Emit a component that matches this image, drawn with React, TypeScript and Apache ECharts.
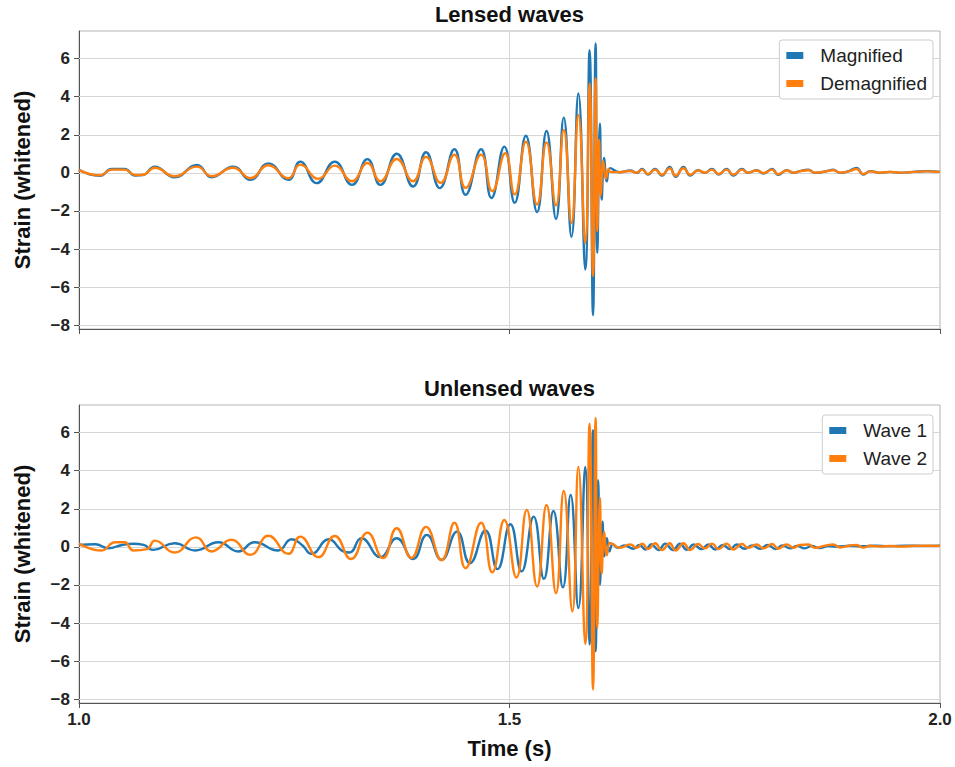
import React, { useEffect, useRef } from "react";
import * as echarts from "echarts";

// Whitened strain, [time (s), strain] at the turning points of each wave.
const magnified: [number, number][] = [
  [1.0, 0.16], [1.024, -0.16], [1.038, 0.2], [1.053, 0.2], [1.065, -0.14], [1.074, -0.12],
  [1.088, 0.33], [1.111, -0.23], [1.137, 0.42], [1.154, -0.23], [1.179, 0.33], [1.199, -0.37],
  [1.22, 0.5], [1.243, -0.37], [1.257, 0.59], [1.276, -0.54], [1.297, 0.59], [1.317, -0.63],
  [1.335, 0.72], [1.35, -0.63], [1.369, 1.0], [1.388, -0.72], [1.403, 1.08], [1.419, -0.8],
  [1.436, 1.24], [1.449, -1.15], [1.467, 1.24], [1.479, -1.32], [1.494, 1.38], [1.506, -1.57],
  [1.519, 1.95], [1.532, -2.06], [1.543, 2.2], [1.554, -2.42], [1.563, 2.9], [1.572, -3.36],
  [1.58, 4.17], [1.588, -5.08], [1.593, 6.44], [1.597, -7.47], [1.6, 6.79], [1.602, -4.2],
  [1.605, 2.6], [1.607, -1.4], [1.61, 0.78], [1.613, -0.44], [1.617, 0.25],
  [1.628, 0.03], [1.64, 0.12], [1.648, 0], [1.654, 0.21], [1.661, -0.09], [1.669, 0.21],
  [1.677, -0.14], [1.686, 0.31], [1.693, -0.21], [1.702, 0.31], [1.71, -0.14], [1.719, 0.14],
  [1.727, 0], [1.735, 0.21], [1.743, -0.09], [1.752, 0.21], [1.76, -0.14], [1.77, 0.21],
  [1.777, 0], [1.787, 0.14], [1.795, -0.03], [1.805, 0.21], [1.812, -0.1], [1.822, 0.14],
  [1.83, 0], [1.837, 0.09], [1.847, 0.17], [1.855, 0], [1.868, 0.09], [1.876, 0.17],
  [1.884, 0], [1.894, 0.09], [1.903, 0.26], [1.911, -0.09], [1.919, 0.09], [1.93, 0],
  [1.942, 0.05], [1.954, 0], [1.969, 0.05], [1.985, 0.09], [2.0, 0.05],
];

const demagnified: [number, number][] = [
  [1.0, 0.14], [1.024, -0.13], [1.038, 0.17], [1.053, 0.17], [1.065, -0.11], [1.074, -0.1],
  [1.088, 0.27], [1.111, -0.18], [1.137, 0.33], [1.154, -0.18], [1.179, 0.27], [1.199, -0.28],
  [1.22, 0.4], [1.243, -0.28], [1.257, 0.43], [1.278, -0.31], [1.297, 0.38], [1.317, -0.44],
  [1.335, 0.52], [1.35, -0.44], [1.369, 0.73], [1.388, -0.44], [1.403, 0.84], [1.42, -0.52],
  [1.436, 0.96], [1.449, -0.79], [1.467, 0.96], [1.48, -0.96], [1.495, 1.03], [1.506, -1.13],
  [1.519, 1.64], [1.532, -1.66], [1.543, 1.6], [1.554, -1.71], [1.563, 2.26], [1.572, -2.63],
  [1.58, 3.04], [1.588, -3.68], [1.593, 4.7], [1.597, -5.41], [1.6, 4.96], [1.602, -3.07],
  [1.604, 1.74], [1.606, -1.2], [1.609, 0.6], [1.612, -0.3], [1.615, 0.2], [1.617, 0.05],
  [1.628, 0.04], [1.64, 0.1], [1.648, 0.01], [1.654, 0.17], [1.661, -0.06], [1.669, 0.17],
  [1.677, -0.1], [1.686, 0.24], [1.693, -0.15], [1.702, 0.24], [1.71, -0.1], [1.719, 0.12],
  [1.727, 0.01], [1.735, 0.17], [1.743, -0.06], [1.752, 0.17], [1.76, -0.1], [1.77, 0.17],
  [1.777, 0.01], [1.787, 0.12], [1.795, -0.01], [1.805, 0.17], [1.812, -0.07], [1.822, 0.12],
  [1.83, 0.01], [1.837, 0.08], [1.847, 0.14], [1.855, 0.01], [1.868, 0.08], [1.876, 0.14],
  [1.884, 0.01], [1.894, 0.08], [1.903, 0.2], [1.911, -0.06], [1.919, 0.08], [1.93, 0.01],
  [1.942, 0.05], [1.954, 0.01], [1.969, 0.05], [1.985, 0.08], [2.0, 0.05],
];

const wave1: [number, number][] = [
  [1.0, 0.1], [1.019, 0.14], [1.034, -0.07], [1.05, 0.1], [1.063, 0.16], [1.075, 0.1],
  [1.086, -0.16], [1.111, 0.19], [1.135, -0.19], [1.162, 0.24], [1.185, -0.24], [1.204, 0.24],
  [1.231, -0.19], [1.247, 0.4], [1.259, 0.1], [1.27, -0.37], [1.29, 0.4], [1.307, -0.24],
  [1.314, -0.3], [1.328, 0.45], [1.35, -0.54], [1.369, 0.45], [1.388, -0.64], [1.404, 0.63],
  [1.421, -0.68], [1.439, 0.8], [1.454, -0.86], [1.472, 0.86], [1.486, -1.17], [1.501, 1.19],
  [1.514, -1.29], [1.528, 1.59], [1.54, -1.68], [1.551, 1.88], [1.562, -2.13], [1.571, 2.72],
  [1.58, -3.21], [1.588, 4.2], [1.593, -5.13], [1.597, 6.13], [1.6, -5.48], [1.603, 3.5],
  [1.605, -1.99], [1.608, 1.32], [1.61, -0.5], [1.613, 0.46], [1.616, -0.24], [1.62, 0.14],
  [1.626, -0.05], [1.633, 0.08], [1.644, -0.1], [1.651, 0.1], [1.658, -0.14], [1.665, 0.14],
  [1.673, -0.17], [1.681, 0.17], [1.69, -0.17], [1.698, 0.17], [1.706, -0.15], [1.714, 0.12],
  [1.723, -0.12], [1.731, 0.12], [1.739, -0.14], [1.748, 0.1], [1.756, -0.12], [1.764, 0.12],
  [1.773, -0.1], [1.782, 0.08], [1.791, -0.1], [1.8, 0.1], [1.809, -0.12], [1.817, 0.08],
  [1.826, -0.08], [1.834, 0.05], [1.843, -0.08], [1.851, 0.05], [1.86, -0.06], [1.87, 0.04],
  [1.88, 0.02], [1.895, 0.06], [1.91, 0.03], [1.925, 0.06], [1.94, 0.04], [1.96, 0.06],
  [1.98, 0.05], [2.0, 0.06],
];

const wave2: [number, number][] = [
  [1.0, 0.17], [1.026, -0.19], [1.042, 0.24], [1.053, 0.24], [1.063, -0.19], [1.079, -0.12],
  [1.088, 0.33], [1.111, -0.3], [1.136, 0.5], [1.154, -0.24], [1.177, 0.37], [1.199, -0.42],
  [1.22, 0.58], [1.243, -0.37], [1.257, 0.54], [1.278, -0.54], [1.297, 0.57], [1.316, -0.64],
  [1.335, 0.75], [1.353, -0.59], [1.369, 0.98], [1.386, -0.59], [1.403, 1.05], [1.421, -0.7],
  [1.436, 1.27], [1.449, -1.12], [1.467, 1.27], [1.48, -1.34], [1.494, 1.41], [1.508, -1.61],
  [1.52, 1.94], [1.532, -2.08], [1.543, 2.2], [1.554, -2.43], [1.563, 2.93], [1.573, -3.39],
  [1.58, 4.2], [1.588, -5.1], [1.593, 6.47], [1.597, -7.49], [1.6, 6.77], [1.602, -4.26],
  [1.605, 2.58], [1.607, -1.4], [1.61, 0.78], [1.613, -0.44], [1.617, 0.2],
  [1.628, -0.05], [1.64, 0.12], [1.648, -0.05], [1.654, 0.17], [1.661, -0.12], [1.669, 0.19],
  [1.677, -0.17], [1.686, 0.19], [1.693, -0.19], [1.702, 0.19], [1.71, -0.17], [1.719, 0.15],
  [1.727, -0.08], [1.735, 0.17], [1.743, -0.12], [1.752, 0.17], [1.76, -0.14], [1.77, 0.15],
  [1.777, -0.05], [1.787, 0.12], [1.795, -0.08], [1.805, 0.15], [1.812, -0.1], [1.822, 0.12],
  [1.83, -0.05], [1.837, 0.1], [1.847, 0.12], [1.855, -0.05], [1.868, 0.08], [1.876, 0.12],
  [1.884, -0.03], [1.894, 0.06], [1.903, 0.1], [1.911, -0.04], [1.919, 0.06], [1.93, 0.02],
  [1.942, 0.05], [1.954, 0.02], [1.969, 0.05], [1.985, 0.06], [2.0, 0.05],
];

const yTicks = [-8, -6, -4, -2, 0, 2, 4, 6];
const topTitle = "Lensed waves";
const bottomTitle = "Unlensed waves";
const topNames = ["Magnified", "Demagnified"];
const bottomNames = ["Wave 1", "Wave 2"];

const FONT = "'Liberation Sans', Arial, Helvetica, sans-serif";
const BLUE = "#1f77b4";
const ORANGE = "#ff7f0e";
const PLOT_LEFT = 79;
const PLOT_RIGHT = 15;
const PANELS = [
  { top: 31, height: 298 },
  { top: 405, height: 298 },
];

const minus = (v: number) => String(v).replace("-", "\u2212");

function xAxisFor(i: number, showLabels: boolean) {
  return {
    type: "value",
    gridIndex: i,
    min: 1,
    max: 2,
    interval: 0.5,
    axisLine: { show: true, onZero: false, lineStyle: { color: "#555", width: 1 } },
    axisTick: { show: true, length: 5, inside: false, lineStyle: { color: "#555", width: 1 } },
    axisLabel: {
      show: showLabels,
      margin: 8,
      fontSize: 17,
      fontWeight: "bold",
      fontFamily: FONT,
      color: "#222",
      formatter: (v: number) => v.toFixed(1),
    },
    splitLine: { show: true, lineStyle: { color: "#d6d6d6", width: 1 } },
    name: showLabels ? "Time (s)" : "",
    nameLocation: "middle",
    nameGap: 34,
    nameTextStyle: { fontSize: 22, fontWeight: "bold", fontFamily: FONT, color: "#111" },
  };
}

function yAxisFor(i: number) {
  return {
    type: "value",
    gridIndex: i,
    min: -8.2,
    max: 7.45,
    axisLine: { show: true, lineStyle: { color: "#555", width: 1 } },
    axisTick: { show: true, length: 5, inside: false, customValues: yTicks, lineStyle: { color: "#555", width: 1 } },
    axisLabel: {
      show: true,
      customValues: yTicks,
      margin: 9,
      fontSize: 17,
      fontWeight: "bold",
      fontFamily: FONT,
      color: "#222",
      formatter: (v: number) => minus(v),
    },
    splitLine: { show: false },
    name: "Strain (whitened)",
    nameLocation: "middle",
    nameRotate: 90,
    nameGap: 46,
    nameTextStyle: { fontSize: 22, fontWeight: "bold", fontFamily: FONT, color: "#111" },
  };
}

function waveSeries(name: string, data: [number, number][], color: string, i: number, withGrid: boolean) {
  const s: any = {
    type: "line",
    name,
    xAxisIndex: i,
    yAxisIndex: i,
    data,
    smooth: 0.5,
    symbol: "none",
    showSymbol: false,
    lineStyle: { color, width: 2.4 },
    itemStyle: { color },
    emphasis: { disabled: true },
  };
  if (withGrid) {
    s.markLine = {
      silent: true,
      z: 1,
      symbol: ["none", "none"],
      label: { show: false },
      lineStyle: { color: "#d6d6d6", width: 1, type: "solid" },
      emphasis: { disabled: true },
      data: yTicks.map((v) => ({ yAxis: v })),
    };
  }
  return s;
}

function legendFor(names: string[], top: number) {
  return {
    data: names,
    orient: "vertical",
    right: 22,
    top,
    icon: "rect",
    itemWidth: 17,
    itemHeight: 7,
    itemGap: 9,
    padding: [6, 6, 6, 7],
    borderColor: "#cccccc",
    borderWidth: 1,
    borderRadius: 3,
    backgroundColor: "#ffffff",
    selectedMode: false,
    textStyle: { fontSize: 19, fontFamily: FONT, color: "#222", padding: [0, 0, 0, 12] },
  };
}

export default function App() {
  const ref = useRef<HTMLDivElement>(null);

  useEffect(() => {
    if (!ref.current) return;
    const chart = echarts.init(ref.current, undefined, { renderer: "svg" });
    const centerX = PLOT_LEFT + (955 - PLOT_LEFT - PLOT_RIGHT) / 2;
    chart.setOption({
      animation: false,
      backgroundColor: "#ffffff",
      grid: PANELS.map((p) => ({
        left: PLOT_LEFT,
        right: PLOT_RIGHT,
        top: p.top,
        height: p.height,
        show: true,
        borderColor: "#b5b5b5",
        borderWidth: 1,
        backgroundColor: "transparent",
      })),
      xAxis: [xAxisFor(0, false), xAxisFor(1, true)],
      yAxis: [yAxisFor(0), yAxisFor(1)],
      legend: [legendFor(topNames, 40), legendFor(bottomNames, 415)],
      graphic: [
        {
          type: "text",
          x: centerX,
          y: 14,
          style: {
            text: topTitle,
            fill: "#111",
            font: `bold 22px ${FONT}`,
            textAlign: "center",
            verticalAlign: "middle",
          },
        },
        {
          type: "text",
          x: centerX,
          y: 388,
          style: {
            text: bottomTitle,
            fill: "#111",
            font: `bold 22px ${FONT}`,
            textAlign: "center",
            verticalAlign: "middle",
          },
        },
      ],
      series: [
        waveSeries(topNames[0], magnified, BLUE, 0, true),
        waveSeries(topNames[1], demagnified, ORANGE, 0, false),
        waveSeries(bottomNames[0], wave1, BLUE, 1, true),
        waveSeries(bottomNames[1], wave2, ORANGE, 1, false),
      ],
    });
    return () => chart.dispose();
  }, []);

  return (
    <div
      ref={ref}
      style={{ position: "fixed", left: 0, top: 0, width: 955, height: 767, background: "#fff" }}
    />
  );
}
